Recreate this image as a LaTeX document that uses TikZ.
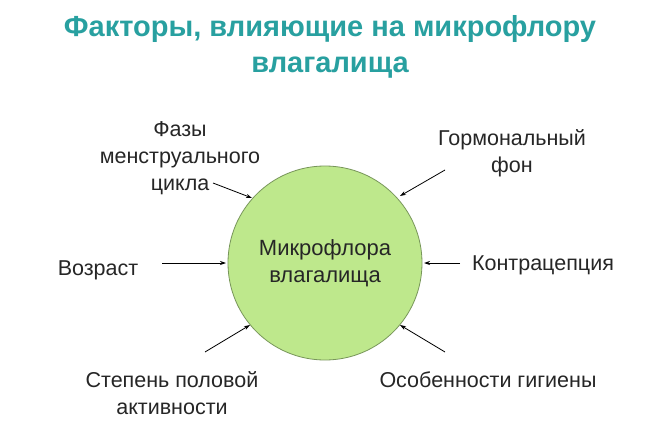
\documentclass[tikz,border=0pt]{standalone}
\usepackage{fontspec}
\setmainfont{Liberation Sans}
\usetikzlibrary{arrows.meta}
\definecolor{titlec}{RGB}{40,160,160}
\definecolor{circfill}{RGB}{190,232,140}
\definecolor{circdraw}{RGB}{120,150,90}
\tikzset{lbl/.style={font=\fontsize{21.5}{27}\selectfont,align=center,text=black!85},
arr/.style={-{Stealth[length=6pt,width=4pt]},line width=0.8pt}}
\begin{document}
\begin{tikzpicture}[x=1pt,y=-1pt]
\useasboundingbox (0,0) rectangle (650,425);
\fill[white] (0,0) rectangle (650,425);
\node[font=\bfseries\fontsize{29}{36}\selectfont,text=titlec,align=center] (t) at (330,47) {Факторы, влияющие на микрофлору\\влагалища};
\node[circle,draw=circdraw,fill=circfill,minimum size=194pt,line width=0.8pt,lbl,font=\fontsize{22}{27}\selectfont] (c) at (325,263) {Микрофлора\\влагалища};
\node[lbl] (a1) at (180,158) {Фазы\\менструального\\цикла};
\node[lbl] (a2) at (512,153) {Гормональный\\фон};
\node[lbl] (a3) at (98,270) {Возраст};
\node[lbl] (a4) at (543,265) {Контрацепция};
\node[lbl] (a5) at (172,393) {Степень половой\\активности};
\node[lbl] (a6) at (488,380) {Особенности гигиены};
\coordinate (s1) at (213,183); \coordinate (e1) at (252,198);
\coordinate (s2) at (445,170); \coordinate (e2) at (400,196);
\coordinate (s3) at (162,263); \coordinate (e3) at (226,263);
\coordinate (s4) at (460,263); \coordinate (e4) at (424,263);
\coordinate (s5) at (205,352); \coordinate (e5) at (250,325);
\coordinate (s6) at (445,352); \coordinate (e6) at (400,325);
\foreach \i in {1,...,6} \draw[arr] (s\i) -- (e\i);
\end{tikzpicture}
\end{document}
